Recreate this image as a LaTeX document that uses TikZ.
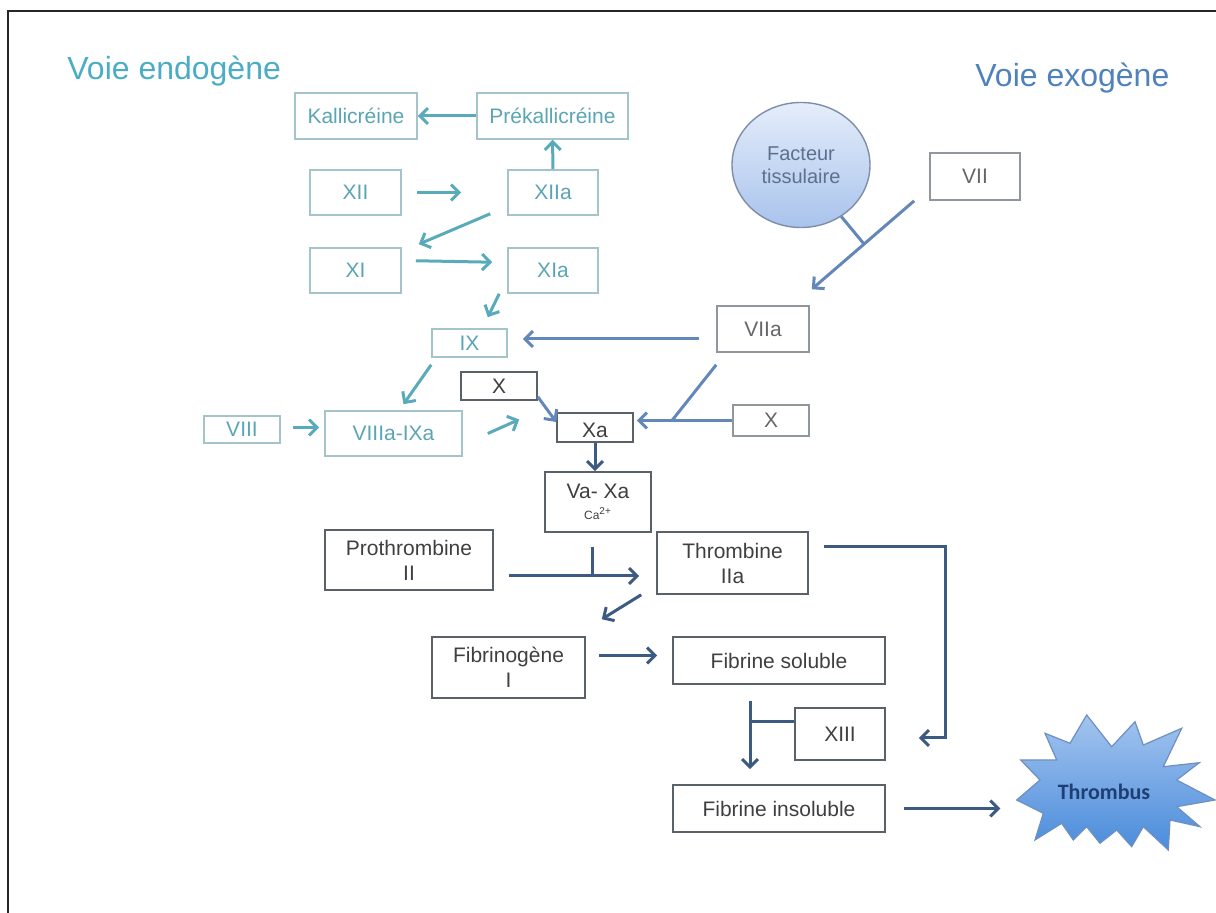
\documentclass[tikz,border=0pt]{standalone}
\usepackage{fontspec}
\setmainfont{Liberation Sans}
\newfontfamily\thrfont{Carlito}
\usetikzlibrary{arrows.meta,shapes.geometric}

\definecolor{endotxt}{HTML}{5AA5B5}
\definecolor{endoline}{HTML}{A3C4CB}
\definecolor{endoarr}{HTML}{59AABB}
\definecolor{exotxt}{HTML}{666666}
\definecolor{exoline}{HTML}{8F969E}
\definecolor{exoarr}{HTML}{6487B9}
\definecolor{darktxt}{HTML}{3F3F3F}
\definecolor{darkline}{HTML}{5B6169}
\definecolor{darkarr}{HTML}{3D5B82}
\definecolor{titleendo}{HTML}{4BACC6}
\definecolor{titleexo}{HTML}{4F81BD}
\definecolor{factop}{HTML}{E4EDFA}
\definecolor{facbot}{HTML}{A9C3EC}
\definecolor{facline}{HTML}{7E8EA8}
\definecolor{factxt}{HTML}{5D7090}
\definecolor{startop}{HTML}{A3C4EF}
\definecolor{starbot}{HTML}{4A8CDB}
\definecolor{starline}{HTML}{6E90C0}
\definecolor{thrtxt}{HTML}{1F3F73}

\begin{document}
\begin{tikzpicture}[x=0.5pt,y=-0.5pt,
  box/.style={draw,line width=0.8pt,inner sep=0pt,align=center,
    font=\fontsize{10.5}{12.5}\selectfont},
  endobox/.style={box,draw=endoline,text=endotxt},
  exobox/.style={box,draw=exoline,text=exotxt},
  darkbox/.style={box,draw=darkline,text=darktxt},
  arr/.style={line width=1.5pt,-{Straight Barb[length=4pt,width=8pt]}},
  endo/.style={arr,draw=endoarr},
  exo/.style={arr,draw=exoarr},
  dark/.style={arr,draw=darkarr}]
\useasboundingbox (0,0) rectangle (1216,913);
% frame
\draw[line width=1.2pt,black!85] (1216,11) -- (8,11) -- (8,913);
% titles
\node[anchor=base west,text=titleendo,font=\fontsize{16}{18}\selectfont,inner sep=0pt] (tendo) at (67,80) {Voie endogène};
\node[anchor=base west,text=titleexo,font=\fontsize{16}{18}\selectfont,inner sep=0pt] (texo) at (975,87) {Voie exogène};

% voie endogene
\node[endobox,minimum width=61pt,minimum height=23pt] (kall) at (356,116) {Kallicréine};
\node[endobox,minimum width=75.5pt,minimum height=23pt] (prek) at (552.5,116) {Prékallicréine};
\node[endobox,minimum width=45.5pt,minimum height=22.5pt] (xii) at (355.5,192.5) {XII};
\node[endobox,minimum width=45pt,minimum height=22.5pt] (xiia) at (553,192.5) {XIIa};
\node[endobox,minimum width=45.5pt,minimum height=22.5pt] (xi) at (355.5,270.5) {XI};
\node[endobox,minimum width=45pt,minimum height=22.5pt] (xia) at (553,270.5) {XIa};
\node[endobox,minimum width=37.5pt,minimum height=14pt] (ix) at (469.5,343) {IX};
\node[endobox,minimum width=38pt,minimum height=13.5pt] (viii) at (242,429.5) {VIII};
\node[endobox,minimum width=68.5pt,minimum height=22.5pt] (viiia) at (393.5,433.5) {VIIIa-IXa};

% voie exogene
\node[ellipse,draw=facline,line width=0.7pt,top color=factop,bottom color=facbot,
  minimum width=69pt,minimum height=62.5pt,inner sep=0pt,align=center,text=factxt,
  font=\fontsize{10}{11.5}\selectfont] (fac) at (801,165) {Facteur\\tissulaire};
\node[exobox,minimum width=45pt,minimum height=23.5pt] (vii) at (975,176.5) {VII};
\node[exobox,minimum width=46pt,minimum height=23pt] (viia) at (763,329) {VIIa};
\node[exobox,minimum width=38pt,minimum height=15.5pt] (xright) at (771,420.5) {X};

% voie commune
\node[darkbox,minimum width=38pt,minimum height=14pt] (xtop) at (499,386) {X};
\node[darkbox,minimum width=38pt,minimum height=14.5pt,text depth=0pt,text height=9.6pt] (xa) at (595,427.5) {Xa};
\node[darkbox,minimum width=53pt,minimum height=30pt] (vaxa) at (598,502) {Va- Xa\\[-2pt]{\fontsize{6}{7}\selectfont Ca\textsuperscript{2+}}};
\node[darkbox,minimum width=84pt,minimum height=30pt] (proth) at (409,560) {Prothrombine\\II};
\node[darkbox,minimum width=75.5pt,minimum height=31pt] (thromb) at (732.5,563) {Thrombine\\IIa};
\node[darkbox,minimum width=76.5pt,minimum height=30.5pt] (fibg) at (508.5,667.5) {Fibrinogène\\I};
\node[darkbox,minimum width=106pt,minimum height=23.5pt] (fibs) at (779,660.5) {Fibrine soluble};
\node[darkbox,minimum width=45pt,minimum height=26pt] (xiii) at (840,734) {XIII};
\node[darkbox,minimum width=106pt,minimum height=23.5pt] (fibi) at (779,808.5) {Fibrine insoluble};

% thrombus
\draw[draw=starline,line width=0.6pt,top color=startop,bottom color=starbot]
  (1086.7,715) -- (1111.7,746.7) -- (1135,721.7) -- (1143.3,745) -- (1181.7,728.3)
  -- (1163.3,766.7) -- (1199.3,762.7) -- (1176.7,780) -- (1215,800) -- (1176.7,806.7)
  -- (1200,826.7) -- (1170,820) -- (1168.3,850) -- (1143.3,826.7) -- (1131.7,846.7)
  -- (1116.7,830) -- (1100,843.3) -- (1086.7,826.7) -- (1073.3,840) -- (1061.7,823.3)
  -- (1035,840) -- (1043.3,813.3) -- (1016.7,800) -- (1040,780) -- (1020.7,760)
  -- (1056.7,760) -- (1045,733.3) -- (1070,743.3) -- cycle;
\node[inner sep=0pt,text=thrtxt,font=\thrfont\bfseries\fontsize{11}{13}\selectfont] (thr) at (1104,792) {Thrombus};

% junctions
\coordinate (jt) at (864,244);
\coordinate (jx) at (672,420.5);
\coordinate (jp) at (592,576);
\coordinate (jf) at (750,722);

% arrows, voie endogene
\draw[endo] (prek) -- (kall);
\draw[endo] (xiia) -- (prek);
\draw[endo,shorten <=7.5pt,shorten >=23pt] (xii) -- (xiia);
\draw[endo] ([xshift=-8.5pt,yshift=1pt]xiia.south west) -- ([xshift=8.5pt,yshift=1.5pt]xi.north east);
\draw[endo,shorten <=7pt,shorten >=7.5pt] ([yshift=5pt]xi.east) -- ([yshift=4pt]xia.west);
\draw[endo] ([xshift=-4pt]xia.south west) -- ([xshift=-10pt,yshift=5.5pt]ix.north east);
\draw[endo] ([yshift=-3.5pt]ix.south west) -- ([xshift=5pt,yshift=3pt]viiia.north);
\draw[endo,shorten <=6pt,shorten >=2.5pt] ([yshift=1pt]viii.east) -- ([yshift=3pt]viiia.west);
\draw[endo] ([xshift=12.5pt]viiia.east) -- ([xshift=-18.5pt,yshift=4pt]xa.west);

% arrows, voie exogene
\draw[exo] ([xshift=-7.5pt]vii.south west) -- ([xshift=1pt,yshift=8pt]viia.north east);
\draw[exoarr,line width=1.5pt] (fac.-52) -- (jt);
\draw[exo,shorten <=8.5pt,shorten >=7.5pt] ([yshift=-5pt]viia.west) -- ([yshift=2pt]ix.east);
\draw[exo,shorten >=1.5pt] (xright.west) -- (xright.west -| xa.east);
\draw[exoarr,line width=1.5pt] ([yshift=-6pt]viia.south west) -- (jx);
\draw[exo] ([yshift=2pt]xtop.south east) -- ([yshift=2.75pt]xa.west);

% arrows, voie commune
\draw[dark] (xa.south) -- (xa.south |- vaxa.north);
\draw[dark,shorten <=7.5pt,shorten >=8.5pt] ([yshift=-8pt]proth.east) -- ([yshift=-6.5pt]thromb.west);
\draw[darkarr,line width=1.5pt] ([xshift=-3pt,yshift=-7pt]vaxa.south) -- (jp);
\draw[dark] ([xshift=-7.5pt]thromb.south west) -- ([xshift=8pt,yshift=8.5pt]fibg.north east);
\draw[dark,shorten <=7.5pt,shorten >=16.5pt] ([yshift=8pt]thromb.east) -- ++(137,0) |- ([yshift=-2pt]xiii.east);
\draw[dark,shorten <=6.5pt,shorten >=7.5pt] ([yshift=6pt]fibg.east) -- ([yshift=2.5pt]fibs.west);
\draw[dark,shorten <=8pt,shorten >=7.5pt] ([xshift=-14.5pt]fibs.south) -- ([xshift=-14.5pt]fibi.north);
\draw[darkarr,line width=1.5pt] ([yshift=6pt]xiii.west) -- (jf);
\draw[dark,shorten <=9pt,shorten >=28.5pt] (fibi.east) -- (fibi.east -| thr.west);
\end{tikzpicture}
\end{document}
